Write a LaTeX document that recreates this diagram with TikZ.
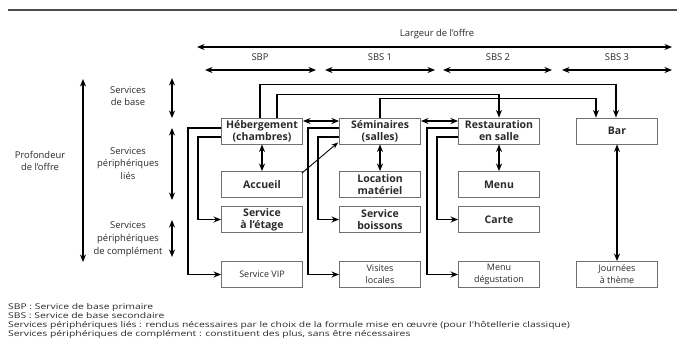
\documentclass[tikz,border=0pt]{standalone}
\usepackage{fontspec}
\setmainfont{Open Sans}
\newfontfamily\legfont{Open Sans}[FakeStretch=1.31]
\usetikzlibrary{arrows.meta}
\definecolor{txt}{HTML}{2A2A2A}
\definecolor{boxc}{HTML}{707070}
\tikzset{
  tip/.tip={Stealth[length=7.5pt,width=6pt]},
  box/.style={draw=boxc, line width=0.9pt, minimum width=81pt, minimum height=26pt, inner sep=1pt, align=center, text=txt},
  bbox/.style={box, font=\fontsize{10.5}{12}\selectfont\bfseries},
  rbox/.style={box, font=\fontsize{9}{12}\selectfont},
  conn/.style={line width=1.5pt, black},
  dbl/.style={line width=1.5pt, black, {tip}-{tip}},
  lab/.style={align=center, text=txt, font=\fontsize{9.4}{12.8}\selectfont},
  leg/.style={anchor=west, inner sep=0, text=txt, font=\legfont\fontsize{7.9}{9}\selectfont},
}
\begin{document}
\begin{tikzpicture}[x=1pt,y=-1pt]
\useasboundingbox (0,0) rectangle (677,353);
\fill[white] (0,0) rectangle (677,353);
% top rule
\draw[line width=2.5pt, gray!60!black] (8,10) -- (677,10);
% width arrows
\node[lab] (larg) at (437,34) {Largeur de l'offre};
\coordinate (wl) at (197,47); \coordinate (wr) at (672,47);
\draw[dbl] (wl) -- (wr);
\node[lab] (sbp) at (260,57) {SBP};
\node[lab] (sbs1) at (380,57) {SBS 1};
\node[lab] (sbs2) at (498,57) {SBS 2};
\node[lab] (sbs3) at (617,57) {SBS 3};
\coordinate (a1) at (205,70); \coordinate (a2) at (316,70);
\coordinate (b1) at (325,70); \coordinate (b2) at (435,70);
\coordinate (c1) at (443,70); \coordinate (c2) at (552,70);
\coordinate (d1) at (562,70); \coordinate (d2) at (672,70);
\draw[dbl] (a1) -- (a2);
\draw[dbl] (b1) -- (b2);
\draw[dbl] (c1) -- (c2);
\draw[dbl] (d1) -- (d2);
% depth
\node[lab] (prof) at (40,161) {Profondeur\\de l'offre};
\coordinate (p1) at (83,79); \coordinate (p2) at (83,262);
\draw[dbl] (p1) -- (p2);
\node[lab] (sb) at (128,96) {Services\\de base};
\node[lab] (spl) at (128,163.5) {Services\\périphériques\\liés};
\node[lab] (spc) at (128,239) {Services\\périphériques\\de complément};
\coordinate (q1) at (172,78); \coordinate (q2) at (172,118);
\coordinate (r1) at (172,128); \coordinate (r2) at (172,200);
\coordinate (s1) at (172,220); \coordinate (s2) at (172,257);
\draw[dbl] (q1) -- (q2);
\draw[dbl] (r1) -- (r2);
\draw[dbl] (s1) -- (s2);
% boxes
\node[bbox] (heb) at (262,131) {Hébergement\\(chambres)};
\node[bbox] (acc) at (262,184.5) {Accueil};
\node[bbox] (eta) at (262,219.5) {Service\\à l'étage};
\node[rbox] (vip) at (262,274.5) {Service VIP};
\node[bbox] (sem) at (380,131) {Séminaires\\(salles)};
\node[bbox] (loc) at (380,184.5) {Location\\matériel};
\node[bbox] (boi) at (380,219.5) {Service\\boissons};
\node[rbox] (vis) at (380,274.5) {Visites\\locales};
\node[bbox] (res) at (499,131) {Restauration\\en salle};
\node[bbox] (men) at (499,184.5) {Menu};
\node[bbox] (car) at (499,219.5) {Carte};
\node[rbox] (deg) at (499,274.5) {Menu\\dégustation};
\node[bbox] (bar) at (617,131) {Bar};
\node[rbox] (jou) at (617,274.5) {Journées\\à thème};
% top connectors
\draw[conn,-{tip}] ([xshift=-2pt]heb.north) -- ++(0,-33) -| ([xshift=-1pt]bar.north);
\draw[conn,-{tip}] ([xshift=15pt]heb.north) -- ++(0,-23) -| (res.north);
\draw[conn,-{tip}] (sem.north) -- ++(0,-19) -| ([xshift=-21pt]bar.north);
% horizontal double arrows
\draw[dbl] ([yshift=10pt]heb.east) -- ([yshift=10pt]sem.west);
\draw[dbl] ([yshift=10pt]sem.east) -- ([yshift=10pt]res.west);
% vertical double arrows
\draw[dbl] (heb.south) -- (acc.north);
\draw[dbl] (sem.south) -- (loc.north);
\draw[dbl] (res.south) -- (men.north);
\draw[dbl] (bar.south) -- (jou.north);
% diagonal
\draw[line width=0.9pt,-{Stealth[length=6.5pt,width=5pt]}] ([xshift=-1pt,yshift=-2pt]acc.north east) -- ([xshift=-1pt,yshift=2pt]sem.south west);
% left branches
\draw[conn,-{tip}] ([yshift=3pt]heb.west) -- ++(-33,0) |- (vip.west);
\draw[conn,-{tip}] ([yshift=-6pt]heb.west) -- ++(-23,0) |- (eta.west);
\draw[conn,-{tip}] ([yshift=3pt]sem.west) -- ++(-31,0) |- (vis.west);
\draw[conn,-{tip}] ([yshift=-6pt]sem.west) -- ++(-21,0) |- (boi.west);
\draw[conn,-{tip}] ([yshift=3pt]res.west) -- ++(-31,0) |- (deg.west);
\draw[conn,-{tip}] ([yshift=-6pt]res.west) -- ++(-21,0) |- (car.west);
% legend
\node[leg] (l1) at (8,307) {SBP : Service de base primaire};
\node[leg] (l2) at (8,316) {SBS : Service de base secondaire};
\node[leg] (l3) at (8,325.5) {Services périphériques liés : rendus nécessaires par le choix de la formule mise en œuvre (pour l'hôtellerie classique)};
\node[leg] (l4) at (8,334.5) {Services périphériques de complément : constituent des plus, sans être nécessaires};
\end{tikzpicture}
\end{document}
